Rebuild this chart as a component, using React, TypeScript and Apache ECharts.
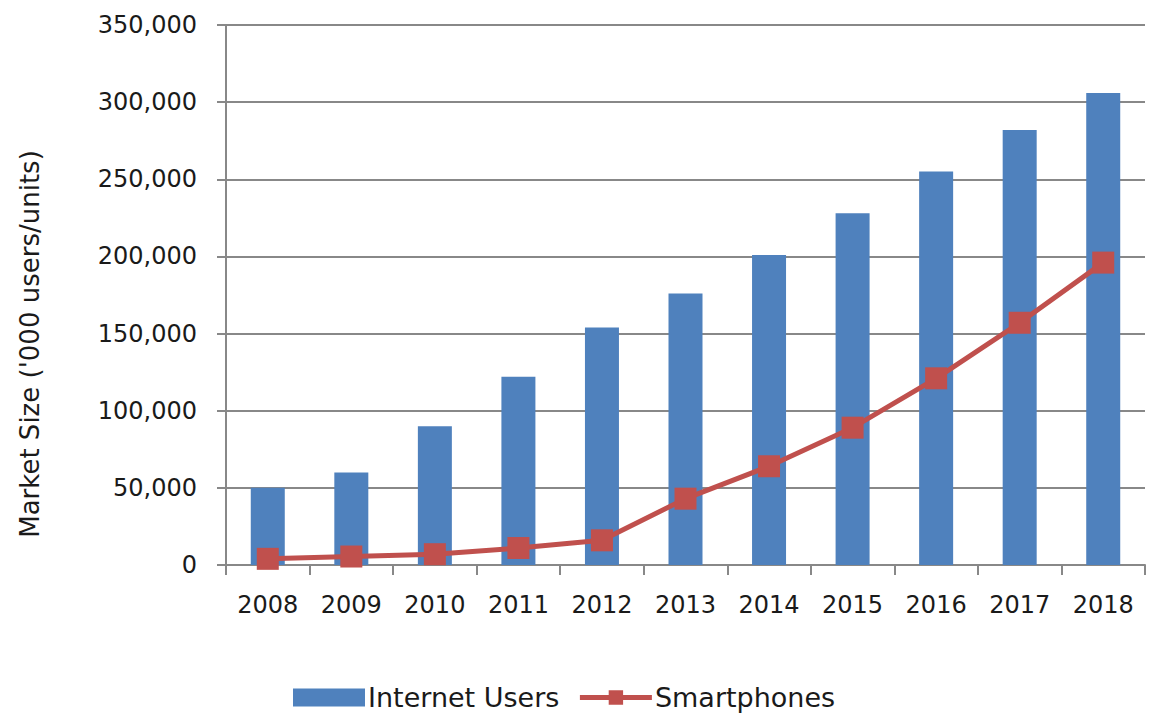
import React, { useEffect, useRef } from "react";
import * as echarts from "echarts";

const years = ["2008", "2009", "2010", "2011", "2012", "2013", "2014", "2015", "2016", "2017", "2018"];
const internetUsers = [50000, 60000, 90000, 122000, 154000, 176000, 201000, 228000, 255000, 282000, 306000];
const smartphones = [4000, 5500, 7000, 11000, 16000, 43000, 64000, 89000, 121000, 157000, 196000];
const yTicks = { min: 0, max: 350000, interval: 50000 };
const yTitle = "Market Size ('000 users/units)";

const FONT = "'DejaVu Sans', 'Noto Sans', sans-serif";
const TXT = "#1a1a1a";

export default function App() {
  const ref = useRef<HTMLDivElement>(null);
  useEffect(() => {
    if (!ref.current) return;
    const chart = echarts.init(ref.current, null, { renderer: "svg" });
    chart.setOption({
      animation: false,
      backgroundColor: "#ffffff",
      textStyle: { fontFamily: FONT },
      grid: { left: 226, right: 4, top: 25, bottom: 150, containLabel: false },
      legend: {
        left: 293,
        top: 684,
        padding: 0,
        itemGap: 18,
        itemWidth: 72,
        itemHeight: 18,
        textStyle: { fontFamily: FONT, fontSize: 27, color: TXT, padding: [0, 0, 0, -2] },
        data: [
          { name: "Internet Users", icon: "rect" },
          { name: "Smartphones", lineStyle: { width: 5, color: "#C0504D" } },
        ],
      },
      graphic: [
        {
          type: "text",
          x: 30,
          y: 344,
          rotation: Math.PI / 2,
          style: {
            text: yTitle,
            fontSize: 26,
            fontFamily: FONT,
            fill: TXT,
            textAlign: "center",
            textVerticalAlign: "middle",
          },
        },
      ],
      xAxis: {
        type: "category",
        data: years,
        boundaryGap: true,
        axisLine: { lineStyle: { color: "#888888", width: 2 } },
        axisTick: { show: true, length: 10, lineStyle: { color: "#888888", width: 2 } },
        axisLabel: { color: TXT, fontSize: 24, margin: 28, fontFamily: FONT },
      },
      yAxis: {
        type: "value",
        min: yTicks.min,
        max: yTicks.max,
        interval: yTicks.interval,
        axisLine: { show: true, lineStyle: { color: "#888888", width: 2 } },
        axisTick: { show: true, length: 9, lineStyle: { color: "#888888", width: 2 } },
        splitLine: { lineStyle: { color: "#888888", width: 2 } },
        axisLabel: {
          color: TXT,
          fontSize: 24,
          margin: 29,
          fontFamily: FONT,
          formatter: (v: number) => v.toLocaleString("en-US"),
        },
      },
      series: [
        {
          name: "Internet Users",
          type: "bar",
          data: internetUsers,
          barWidth: 34,
          itemStyle: { color: "#4F81BD" },
        },
        {
          name: "Smartphones",
          type: "line",
          data: smartphones,
          symbol: "rect",
          symbolSize: 22,
          lineStyle: { color: "#C0504D", width: 5 },
          itemStyle: { color: "#C0504D" },
        },
      ],
    });
    return () => chart.dispose();
  }, []);
  return <div ref={ref} style={{ width: 1149, height: 715, position: "absolute", left: 0, top: 0 }} />;
}
